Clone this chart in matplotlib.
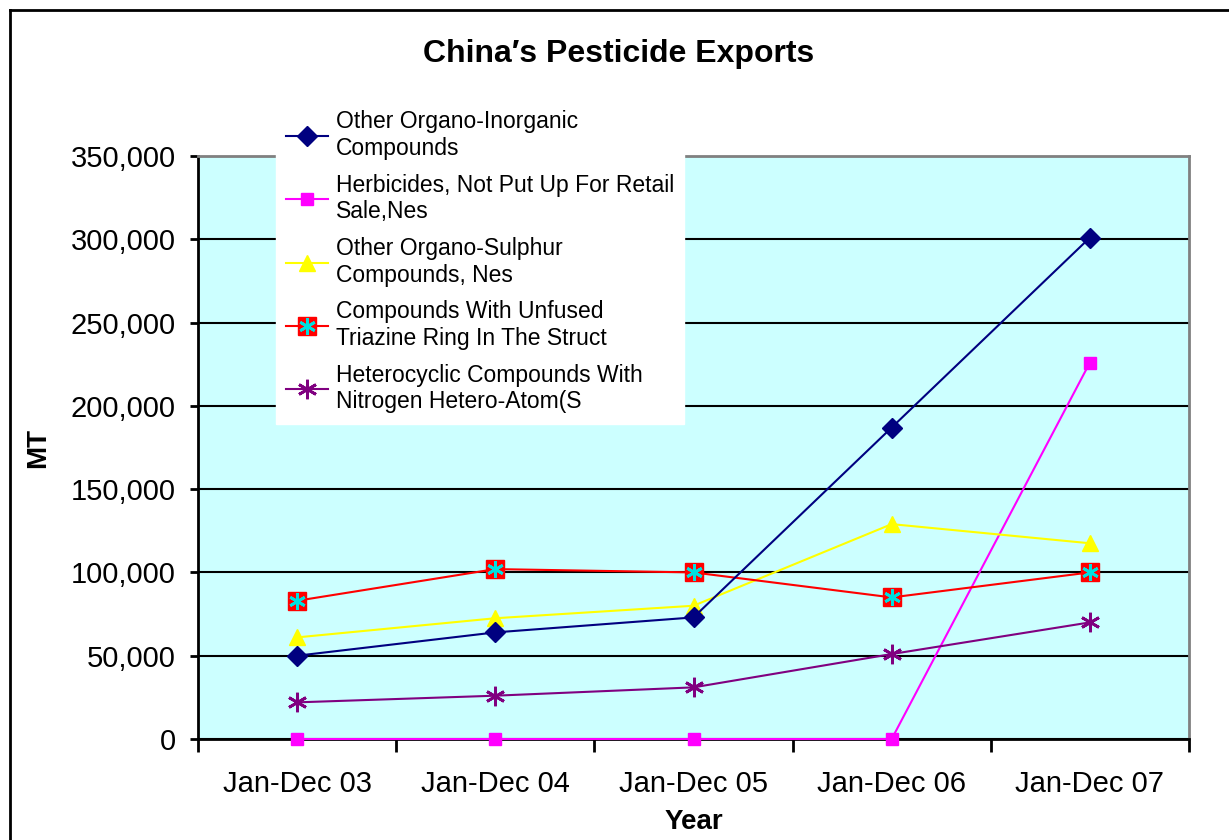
import matplotlib
matplotlib.use("Agg")
import matplotlib.pyplot as plt
from matplotlib.lines import Line2D
from matplotlib.legend_handler import HandlerTuple
from matplotlib.ticker import StrMethodFormatter, FixedLocator

plt.rcParams['font.family'] = ['Liberation Sans', 'DejaVu Sans']

years = ["Jan-Dec 03", "Jan-Dec 04", "Jan-Dec 05", "Jan-Dec 06", "Jan-Dec 07"]
organo_inorganic = [50000, 64000, 73000, 187000, 301000]
herbicides = [0, 0, 0, 0, 226000]
organo_sulphur = [61000, 72500, 80000, 129000, 117500]
triazine = [83000, 102000, 100000, 85000, 100000]
heterocyclic = [22000, 26000, 31000, 51000, 70000]

labels = [
    "Other Organo-Inorganic\nCompounds",
    "Herbicides, Not Put Up For Retail\nSale,Nes",
    "Other Organo-Sulphur\nCompounds, Nes",
    "Compounds With Unfused\nTriazine Ring In The Struct",
    "Heterocyclic Compounds With\nNitrogen Hetero-Atom(S",
]

fig = plt.figure(figsize=(12.29, 8.4), dpi=100)
ax = fig.add_axes([198 / 1229, 101 / 840, 991 / 1229, 583 / 840])
ax.set_facecolor("#ccffff")

x = list(range(len(years)))
star = (6, 2, 0)

l1, = ax.plot(x, organo_inorganic, color="#000080", lw=1.5, marker="D", ms=10,
              mfc="#000080", mec="#000080", zorder=5)
l2, = ax.plot(x, herbicides, color="#ff00ff", lw=1.5, marker="s", ms=9,
              mfc="#ff00ff", mec="#ff00ff", zorder=4, clip_on=False)
l3, = ax.plot(x, organo_sulphur, color="#ffff00", lw=1.5, marker="^", ms=12,
              mfc="#ffff00", mec="#ffff00", zorder=4)
l4, = ax.plot(x, triazine, color="#ff0000", lw=1.5, marker="s", ms=13,
              mfc="#ff0000", mec="#ff0000", zorder=4)
l4b, = ax.plot(x, triazine, ls="none", marker=star, ms=12, mec="#00e0e0",
               mew=2, zorder=4.5)
l5, = ax.plot(x, heterocyclic, color="#800080", lw=1.5, marker=star, ms=14,
              mec="#800080", mew=2, zorder=4)

ax.set_xlim(-0.5, len(years) - 0.5)
ax.set_ylim(0, 350000)
ax.set_yticks(range(0, 350001, 50000))
ax.yaxis.set_major_formatter(StrMethodFormatter("{x:,.0f}"))
ax.grid(axis="y", color="black", lw=1.5, zorder=1)
ax.set_axisbelow(True)

ax.xaxis.set_major_locator(FixedLocator([i - 0.5 for i in range(len(years) + 1)]))
ax.xaxis.set_minor_locator(FixedLocator(x))
ax.set_xticklabels([])
ax.set_xticklabels(years, minor=True)
ax.tick_params(axis="x", which="major", length=9, width=2, direction="out")
ax.tick_params(axis="x", which="minor", length=0, pad=22, labelsize=21)
ax.tick_params(axis="y", length=6, width=2, pad=10, labelsize=21)

for s in ["top", "right"]:
    ax.spines[s].set_color("#808080")
    ax.spines[s].set_linewidth(2)
for s in ["left", "bottom"]:
    ax.spines[s].set_color("black")
    ax.spines[s].set_linewidth(2)

ax.set_ylabel("MT", fontsize=20, fontweight="bold", labelpad=14)
ax.set_xlabel("Year", fontsize=20, fontweight="bold", labelpad=8)
fig.text(619 / 1229, 1 - 54 / 840, "China\u2032s Pesticide Exports",
         ha="center", va="center", fontsize=23, fontweight="bold")

leg = fig.legend([l1, l2, l3, (l4, l4b), l5], labels,
                 handler_map={tuple: HandlerTuple(ndivide=1)},
                 loc="upper left", bbox_to_anchor=(276 / 1229, 1 - 100 / 840),
                 borderaxespad=0, fontsize=16.5, frameon=True, fancybox=False,
                 framealpha=1, edgecolor="white", facecolor="white",
                 handlelength=1.8, handletextpad=0.35, labelspacing=0.6,
                 borderpad=0.45)
leg.set_zorder(10)

# outer chart border (left and top edges visible)
fig.add_artist(Line2D([10 / 1229, 10 / 1229], [0, 1 - 10 / 840], color="black", lw=2))
fig.add_artist(Line2D([10 / 1229, 1], [1 - 10 / 840, 1 - 10 / 840], color="black", lw=2))

fig.savefig("out.png", dpi=100)
